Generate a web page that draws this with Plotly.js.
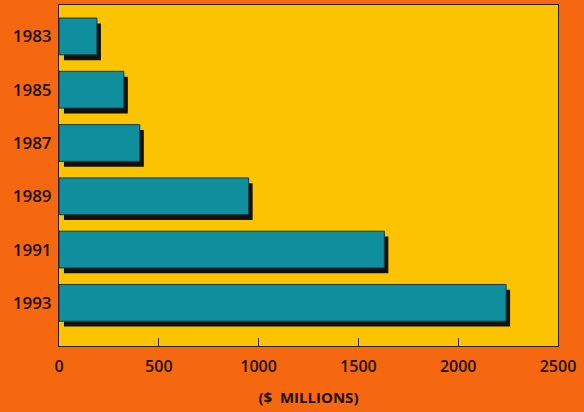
<!DOCTYPE html>
<html><head><meta charset="utf-8">
<script src="https://cdn.plot.ly/plotly-3.0.1.min.js"></script>
<style>html,body{margin:0;padding:0;background:#f5680f;}</style>
</head><body>
<div id="chart" style="width:584px;height:412px;"></div>
<script>
const years = ["1983","1985","1987","1989","1991","1993"];
const values = [190, 325, 405, 950, 1630, 2240];
const xTicks = [0, 500, 1000, 1500, 2000, 2500];

const idx = years.map((_, i) => i);
const shadowDx = 25, shadowDy = 0.1;

const shadow = {
  type: 'bar', orientation: 'h',
  y: idx.map(i => i + shadowDy),
  x: values.map(v => v - shadowDx + 20),
  base: shadowDx,
  width: 0.69,
  marker: {color: '#111111', line: {width: 0}},
  hoverinfo: 'skip', showlegend: false
};
const bars = {
  type: 'bar', orientation: 'h',
  y: idx, x: values,
  width: 0.69,
  marker: {color: '#0f8e9e', line: {color: '#1a3a40', width: 1}},
  showlegend: false
};

const layout = {
  width: 584, height: 412,
  margin: {l: 59, r: 26, t: 5, b: 66},
  paper_bgcolor: '#f5680f',
  plot_bgcolor: '#fcc300',
  barmode: 'overlay',
  font: {family: 'Open Sans, sans-serif', color: '#1a1008'},
  xaxis: {
    range: [0, 2500], tickvals: xTicks, ticktext: xTicks.map(String),
    ticks: 'inside', ticklen: 8, tickcolor: '#333', showgrid: false, zeroline: false,
    showline: true, linecolor: '#2a2016', linewidth: 1, mirror: true,
    tickfont: {size: 16, family: 'Open Sans, sans-serif', weight: 600},
    ticklabelstandoff: 6,
    title: {text: '($  MILLIONS)', font: {size: 15, family: 'Open Sans, sans-serif', weight: 700}, standoff: 16}
  },
  yaxis: {
    range: [5.81, -0.59], tickvals: idx, ticktext: years,
    ticks: '', showgrid: false, zeroline: false,
    showline: true, linecolor: '#2a2016', linewidth: 1, mirror: true,
    tickfont: {size: 17, family: 'Open Sans, sans-serif', weight: 600},
    ticklabelstandoff: 3
  }
};
Plotly.newPlot('chart', [shadow, bars], layout, {staticPlot: true, displayModeBar: false});
</script>
</body></html>
